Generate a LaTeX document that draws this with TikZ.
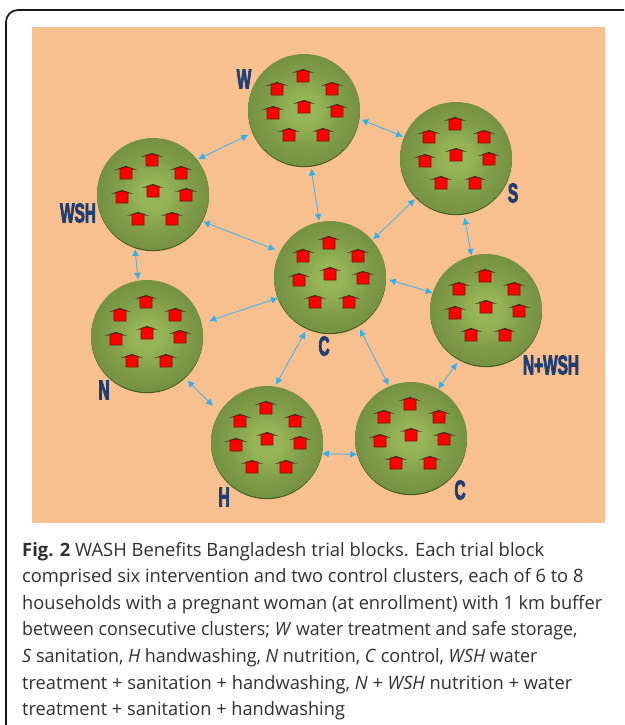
\documentclass[tikz,border=0pt]{standalone}
\usepackage{fontspec}
\usepackage{graphicx}
\setmainfont{Open Sans}
\newfontfamily\labfont[BoldFeatures={FakeBold=4}]{Liberation Sans}
\usetikzlibrary{arrows.meta,shadows}
\definecolor{peach}{HTML}{F9C08F}
\definecolor{discA}{HTML}{96B556}
\definecolor{discB}{HTML}{7D9B48}
\definecolor{discC}{HTML}{67843A}
\definecolor{discEdge}{HTML}{465C25}
\definecolor{linkblue}{HTML}{56B4E4}
\definecolor{tipblue}{HTML}{2FB0EC}
\definecolor{labblue}{HTML}{1F3F73}
\definecolor{roof}{HTML}{3A2418}
\definecolor{captext}{HTML}{303030}
\pgfdeclareradialshading{disc}{\pgfpointorigin}{color(0bp)=(discA); color(6bp)=(discA); color(18bp)=(discB); color(35bp)=(discC); color(50bp)=(discC)}
\tikzset{
  cluster/.style={circle,minimum size=112pt,inner sep=0pt,outer sep=0pt,shading=disc,
    general shadow={fill=discEdge,shadow yshift=-1.2pt}},
  link/.style={draw=linkblue,line width=1pt,{Latex[length=7pt,width=7pt,color=tipblue]}-{Latex[length=7pt,width=7pt,color=tipblue]}},
  tag/.style={text=labblue,inner sep=0pt,font=\labfont\bfseries\fontsize{27}{27}\selectfont},
  capline/.style={anchor=base west,inner sep=0pt,text=captext,font=\fontsize{18.4}{22}\selectfont},
  hut/.pic={
    \fill[roof] (-11,-4.2) -- (0,-8) -- (11,-4.2) -- (0,-5.4) -- cycle;
    \draw[fill=red,draw=roof!70!red,line width=.8pt] (-6,-5.5) -- (0,-6.8) -- (6,-5.5) -- (6,5) -- (-6,5) -- cycle;
  },
  huts/.pic={
    \foreach \hx/\hy in {-1/-33,-27/-20,28/-20,-31/4,0/-2,33/2,-15/26,19/26}
      \pic at (\hx,\hy) {hut};
  }
}
\newcommand{\capfit}[2]{\scalebox{#1}[1]{#2}}
\begin{document}
\begin{tikzpicture}[x=1pt,y=-1pt]
\useasboundingbox (0,0) rectangle (624,725);
\fill[white] (0,0) rectangle (624,725);
\draw[line width=1.7pt,color=black!90,rounded corners=12pt] (6,725) -- (6,10) -- (624,10);
\fill[peach] (32,27) rectangle (605,523);

\node[cluster] (w) at (304,110) {};
\node[cluster] (s) at (456,158) {};
\node[cluster] (wsh) at (153,194) {};
\node[cluster] (c) at (330,277) {};
\node[cluster] (nwsh) at (486,310) {};
\node[cluster] (n) at (147,336) {};
\node[cluster] (h) at (267,442) {};
\node[cluster] (cc) at (411,438) {};
\foreach \k in {w,s,wsh,c,nwsh,n,h,cc} \pic at (\k) {huts};

\draw[link,shorten <=1pt,shorten >=5pt] (wsh.38) -- (w.204);
\draw[link,shorten <=2pt,shorten >=1pt] (w.-9) -- (s.158);
\draw[link,shorten <=3pt,shorten >=1pt] (w.-83) -- (c.101);
\draw[link,shorten <=2pt,shorten >=1pt] (s.225) -- (c.41);
\draw[link,shorten <=4pt] (s.-82) -- (nwsh.105);
\draw[link,shorten <=2pt,shorten >=1pt] (wsh.-109) -- (n.99);
\draw[link,shorten <=1pt,shorten >=5pt] (wsh.-29) -- (c.153);
\draw[link,shorten >=8pt] (c.202) -- (n.13);
\draw[link,shorten <=3pt] (c.-2) -- (nwsh.162);
\draw[link,shorten <=4pt,shorten >=2pt] (c.246) -- (h.82);
\draw[link,shorten <=4pt,shorten >=1pt] (c.-60) -- (cc.113);
\draw[link,shorten <=4pt,shorten >=9pt] (n.-48) -- (h.148);
\draw[link] (h.-12.5) -- (cc.197);
\draw[link,shorten >=4pt] (cc.61) -- (nwsh.242);

\node[tag] (lw) at (244,79) {\scalebox{.57}[1]{W}};
\node[tag] (ls) at (513,193) {\scalebox{.57}[1]{S}};
\node[tag] (lwsh) at (78,213) {\scalebox{.57}[1]{WSH}};
\node[tag] (lc) at (324,346) {\scalebox{.57}[1]{C}};
\node[tag] (lnwsh) at (551,365) {\scalebox{.57}[1]{N+WSH}};
\node[tag] (ln) at (104,390) {\scalebox{.57}[1]{N}};
\node[tag] (lh) at (224,497) {\scalebox{.57}[1]{H}};
\node[tag] (lcc) at (460,490) {\scalebox{.57}[1]{C}};

\node[capline] (l1) at (22,556) {\capfit{1}{\textbf{Fig. 2} WASH Benefits Bangladesh trial blocks. Each trial block}};
\node[capline] (l2) at (22,582) {\capfit{.995}{comprised six intervention and two control clusters, each of 6 to 8}};
\node[capline] (l3) at (22,609) {\capfit{.99}{households with a pregnant woman (at enrollment) with 1 km buffer}};
\node[capline] (l4) at (22,635.5) {\capfit{.967}{between consecutive clusters; \textit{W} water treatment and safe storage,}};
\node[capline] (l5) at (22,662) {\capfit{.973}{\textit{S} sanitation, \textit{H} handwashing, \textit{N} nutrition, \textit{C} control, \textit{WSH} water}};
\node[capline] (l6) at (22,689) {\capfit{.992}{treatment + sanitation + handwashing, \textit{N} + \textit{WSH} nutrition + water}};
\node[capline] (l7) at (22,715.5) {\capfit{.99}{treatment + sanitation + handwashing}};
\end{tikzpicture}
\end{document}
